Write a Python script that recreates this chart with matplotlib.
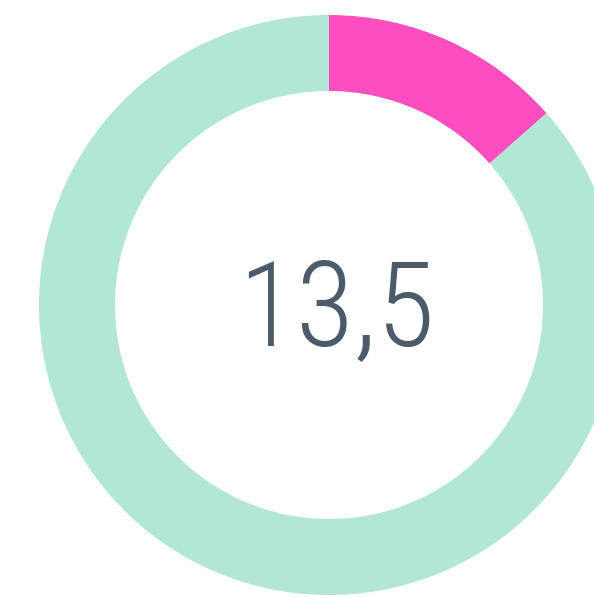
import matplotlib.pyplot as plt
from matplotlib import font_manager
from matplotlib.textpath import TextPath

values = [13.5, 86.5]
colors = ['#fd4dbf', '#b2e6d6']
label = '13,5'


def weight_num(w):
    if isinstance(w, str):
        return font_manager.weight_dict.get(w, 400)
    return int(w)


# thin, narrow face for the centre number
wanted = ['Open Sans Condensed', 'Roboto Condensed', 'Fira Sans Condensed',
          'IBM Plex Sans Condensed', 'Barlow Semi Condensed', 'Encode Sans Condensed',
          'Open Sans']
fname = None
for fam in wanted:
    hits = [f for f in font_manager.fontManager.ttflist
            if f.name == fam and f.style == 'normal' and weight_num(f.weight) <= 300]
    if hits:
        hits.sort(key=lambda f: abs(weight_num(f.weight) - 300))
        fname = hits[0].fname
        break
if fname:
    fp = font_manager.FontProperties(fname=fname)
else:
    fp = font_manager.FontProperties(family='DejaVu Sans')

# size the text so the digits stand about 87 px tall
ext = TextPath((0, 0), '135', size=100, prop=fp).get_extents()
size = 100 * (87 * 72 / 100) / ext.height
fp.set_size(size)

fig = plt.figure(figsize=(5.94, 5.97), dpi=100)
ax = fig.add_axes([0, 0, 1, 1])

ax.pie(values, colors=colors, startangle=90, counterclock=False, radius=1.0,
       wedgeprops=dict(width=0.262, linewidth=0))

ax.text(0.024, -0.138, label, ha='center', va='baseline', fontproperties=fp,
        color='#4b5b69')

# pixel placement: centre at (329, 305), radius 290 px
ax.set_xlim(-329 / 290, (594 - 329) / 290)
ax.set_ylim(-(597 - 305) / 290, 305 / 290)
ax.set_aspect('auto')
ax.axis('off')

fig.savefig('out.png', dpi=100)
